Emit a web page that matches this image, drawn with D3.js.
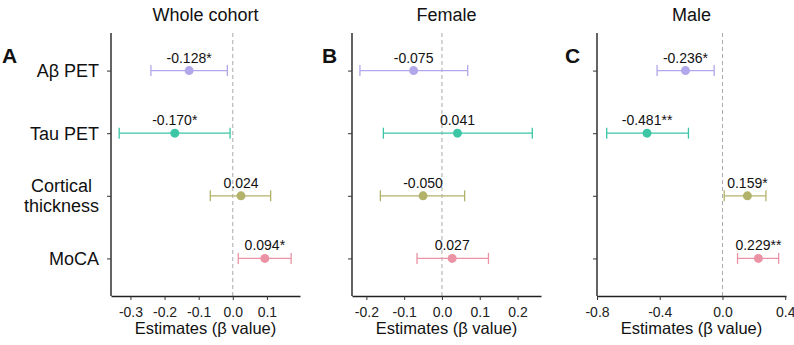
<!DOCTYPE html>
<html>
<head>
<meta charset="utf-8">
<script src="https://cdn.jsdelivr.net/npm/d3@7"></script>
<style>
  body { margin: 0; background: #fff; }
  svg { font-family: "Liberation Sans", Arial, sans-serif; }
</style>
</head>
<body>
<div id="chart"></div>
<script>
// outcomes (top to bottom) and panels
const outcomes = ["Aβ PET", "Tau PET", "Cortical thickness", "MoCA"];
const outcomeColors = ["#b0a8ea", "#3cc6a6", "#b2b36a", "#eb93a4"];
const panelTitles = ["Whole cohort", "Female", "Male"];
const panelLetters = ["A", "B", "C"];

// Whole cohort
const estWhole = [-0.128, -0.170, 0.024, 0.094];
const lowWhole = [-0.240, -0.333, -0.066, 0.016];
const highWhole = [-0.016, -0.008, 0.111, 0.171];
const sigWhole = ["*", "*", "", "*"];
const ticksWhole = [-0.3, -0.2, -0.1, 0.0, 0.1];

// Female
const estFemale = [-0.075, 0.041, -0.050, 0.027];
const lowFemale = [-0.217, -0.155, -0.163, -0.066];
const highFemale = [0.068, 0.239, 0.060, 0.123];
const sigFemale = ["", "", "", ""];
const ticksFemale = [-0.2, -0.1, 0.0, 0.1, 0.2];

// Male
const estMale = [-0.236, -0.481, 0.159, 0.229];
const lowMale = [-0.417, -0.738, 0.011, 0.096];
const highMale = [-0.053, -0.217, 0.277, 0.358];
const sigMale = ["*", "**", "*", "**"];
const ticksMale = [-0.8, -0.4, 0.0, 0.4];

const width = 794, height = 345;
const plotTop = 33, plotBottom = 296;

const panels = [
  { est: estWhole, low: lowWhole, high: highWhole, sig: sigWhole, ticks: ticksWhole,
    domain: [-0.357, 0.197], range: [111, 300], letterX: 2 },
  { est: estFemale, low: lowFemale, high: highFemale, sig: sigFemale, ticks: ticksFemale,
    domain: [-0.238, 0.262], range: [352, 541], letterX: 322 },
  { est: estMale, low: lowMale, high: highMale, sig: sigMale, ticks: ticksMale,
    domain: [-0.8, 0.405], range: [597, 786], letterX: 565 }
];

const svg = d3.select("#chart").append("svg")
  .attr("width", width)
  .attr("height", height);

const y = d3.scalePoint()
  .domain(outcomes)
  .range([plotTop, plotBottom])
  .padding(0.6);

panels.forEach((p, i) => {
  const x = d3.scaleLinear().domain(p.domain).range(p.range);
  const g = svg.append("g");
  const mid = (p.range[0] + p.range[1]) / 2;

  // title
  g.append("text")
    .attr("x", mid).attr("y", 21)
    .attr("text-anchor", "middle")
    .attr("font-size", 18)
    .attr("fill", "#111")
    .text(panelTitles[i]);

  // panel letter
  g.append("text")
    .attr("x", p.letterX).attr("y", 63)
    .attr("font-size", 21)
    .attr("font-weight", "bold")
    .attr("fill", "#111")
    .text(panelLetters[i]);

  // zero reference line
  g.append("line")
    .attr("x1", x(0)).attr("x2", x(0))
    .attr("y1", plotTop).attr("y2", plotBottom)
    .attr("stroke", "#aaa")
    .attr("stroke-width", 1)
    .attr("stroke-dasharray", "4,3");

  // x axis
  const xAxis = g.append("g")
    .attr("transform", `translate(0,${plotBottom})`)
    .call(d3.axisBottom(x).tickValues(p.ticks).tickSize(4).tickSizeOuter(0)
      .tickFormat(d => d.toFixed(1)));
  xAxis.select(".domain").attr("stroke", "#222").attr("stroke-width", 1.4);
  xAxis.selectAll(".tick line").attr("stroke", "#333");
  xAxis.selectAll(".tick text")
    .attr("font-size", 14).attr("fill", "#222").attr("dy", "1em")
    .attr("font-family", "'Liberation Sans', Arial, sans-serif");

  // y axis
  const yAxis = g.append("g")
    .attr("transform", `translate(${p.range[0]},0)`)
    .call(d3.axisLeft(y).tickSize(4).tickSizeOuter(0).tickFormat(""));
  yAxis.select(".domain").attr("stroke", "#222").attr("stroke-width", 1.4)
    .attr("d", `M0,${plotTop}V${plotBottom}`);
  yAxis.selectAll(".tick line").attr("stroke", "#333");

  // x axis title
  g.append("text")
    .attr("x", mid).attr("y", 334)
    .attr("text-anchor", "middle")
    .attr("font-size", 16.5)
    .attr("fill", "#111")
    .text("Estimates (β value)");

  // error bars
  const rows = g.selectAll(".row")
    .data(outcomes.map((o, k) => ({ o, k })))
    .join("g")
    .attr("class", "row")
    .attr("transform", d => `translate(0,${y(d.o)})`);

  rows.append("line")
    .attr("x1", d => x(p.low[d.k])).attr("x2", d => x(p.high[d.k]))
    .attr("stroke", d => outcomeColors[d.k]).attr("stroke-width", 1.3);
  rows.selectAll(".cap")
    .data(d => [p.low[d.k], p.high[d.k]].map(v => ({ v, k: d.k })))
    .join("line")
    .attr("class", "cap")
    .attr("x1", d => x(d.v)).attr("x2", d => x(d.v))
    .attr("y1", -5.5).attr("y2", 5.5)
    .attr("stroke", d => outcomeColors[d.k]).attr("stroke-width", 1.3);
  rows.append("circle")
    .attr("cx", d => x(p.est[d.k]))
    .attr("r", 4.5)
    .attr("fill", d => outcomeColors[d.k]);
  rows.append("text")
    .attr("x", d => x(p.est[d.k]))
    .attr("y", -8)
    .attr("text-anchor", "middle")
    .attr("font-size", 14)
    .attr("fill", "#111")
    .text(d => p.est[d.k].toFixed(3) + p.sig[d.k]);
});

// outcome labels (left of panel A)
const labelRight = 99;
outcomes.forEach(o => {
  const words = o === "Cortical thickness" ? ["Cortical", "thickness"] : [o];
  const t = svg.append("text")
    .attr("font-size", 18)
    .attr("fill", "#111");
  if (words.length === 1) {
    t.attr("x", labelRight).attr("y", y(o) + 6.5)
      .attr("text-anchor", "end").text(o);
  } else {
    const spans = words.map((w, j) => t.append("tspan")
      .attr("y", y(o) - 3.5 + j * 20).text(w));
    const maxW = d3.max(spans, s => s.node().getComputedTextLength());
    t.attr("text-anchor", "middle");
    spans.forEach(s => s.attr("x", labelRight - maxW / 2));
  }
});
</script>
</body>
</html>
